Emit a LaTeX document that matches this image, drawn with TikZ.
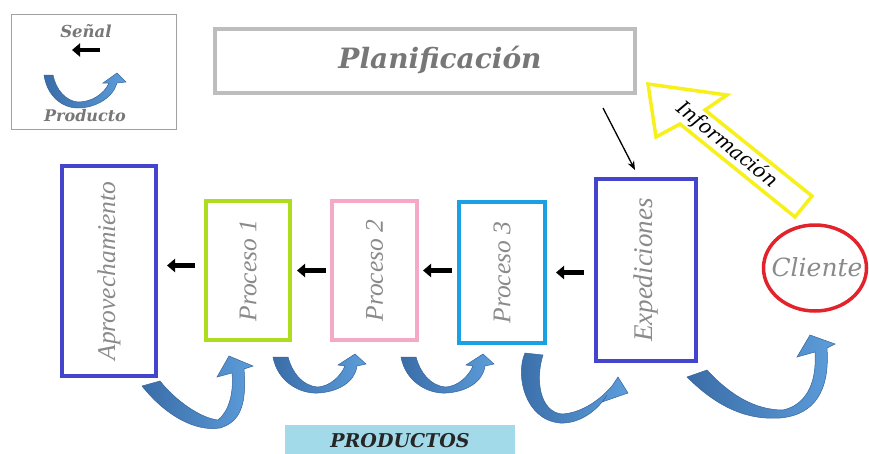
\documentclass[tikz,border=0pt]{standalone}
\usepackage{fontspec}
\setmainfont{Liberation Serif}
\newfontfamily\dvs{DejaVu Serif}
\usetikzlibrary{shapes.geometric,arrows.meta,calc}
\definecolor{boxblue}{HTML}{4444CC}
\definecolor{boxgreen}{HTML}{AEDC1E}
\definecolor{boxpink}{HTML}{F5A9C6}
\definecolor{boxcyan}{HTML}{1BA1E2}
\definecolor{planGray}{HTML}{BDBDBD}
\definecolor{lblGray}{HTML}{8A8A8A}
\definecolor{boldGray}{HTML}{777777}
\definecolor{cliRed}{HTML}{E3232B}
\definecolor{infoYellow}{HTML}{F7F01A}
\definecolor{ribDark}{HTML}{3A6DA8}
\definecolor{ribLight}{HTML}{5C9DDA}
\definecolor{ribLine}{HTML}{35649A}
\definecolor{prodFill}{HTML}{A3DAEA}
\begin{document}
\begin{tikzpicture}[x=1pt,y=-1pt,
  procbox/.style={draw, line width=4pt, fill=white, inner sep=0pt},
  boxlabel/.style={text=lblGray, font=\itshape\fontsize{25.5}{28}\selectfont, rotate=90},
  boldlabel/.style={text=boldGray, font=\dvs\bfseries\itshape},
  sig/.style={line width=4.5pt, -{Triangle[length=8pt,width=13pt]}},
  ribbon/.style={left color=ribDark, right color=ribLight, draw=ribLine, line width=0.5pt},
]
\useasboundingbox (0,0) rectangle (869,453);

% legend
\node[draw=lblGray!80, line width=0.8pt, minimum width=165pt, minimum height=115pt, inner sep=0pt] (legend) at (94,71.5) {};
\node[boldlabel, font=\dvs\bfseries\itshape\fontsize{16.5}{18}\selectfont] (senal) at (86,31) {Señal};
\node[boldlabel, font=\dvs\bfseries\itshape\fontsize{16}{18}\selectfont] (producto) at (85,116) {Producto};
\coordinate (lgA) at (100,50);
\coordinate (lgB) at (72,50);
\draw[sig] (lgA) -- (lgB);
\path[ribbon] (44,75) .. controls (47,96) and (62,108) .. (78,108)
  .. controls (95,108) and (113,98) .. (117,83) -- (126,82) -- (117,73) -- (103,83) -- (109,83)
  .. controls (104,94) and (92,102) .. (78,102) .. controls (66,101) and (56,90) .. (53,75) -- cycle;

% planificacion
\node[draw=planGray, line width=4pt, minimum width=420pt, minimum height=64pt, inner sep=0pt] (plan) at (425,61) {};
\node[boldlabel, font=\dvs\bfseries\itshape\fontsize{28}{30}\selectfont] (plantxt) at (440,60) {Planificación};

% process boxes
\node[procbox, draw=boxblue, minimum width=94pt, minimum height=210pt] (ap) at (109,271) {};
\node[boxlabel] at (ap) {Aprovechamiento};
\node[procbox, draw=boxgreen, minimum width=84pt, minimum height=139pt] (p1) at (248,270.5) {};
\node[boxlabel] at (p1) {Proceso 1};
\node[procbox, draw=boxpink, minimum width=85pt, minimum height=139pt] (p2) at (374.5,270.5) {};
\node[boxlabel] at (p2) {Proceso 2};
\node[procbox, draw=boxcyan, minimum width=86pt, minimum height=141pt] (p3) at (502,272.5) {};
\node[boxlabel] at (p3) {Proceso 3};
\node[procbox, draw=boxblue, minimum width=100pt, minimum height=182pt] (exp) at (646,270) {};
\node[boxlabel, font=\itshape\fontsize{27}{30}\selectfont] at (exp) {Expediciones};

% cliente
\node[ellipse, draw=cliRed, line width=3.5pt, minimum width=103pt, minimum height=86pt, inner sep=0pt] (cli) at (815,268) {};
\node[text=lblGray, font=\dvs\itshape\fontsize{25}{28}\selectfont] (clitxt) at (817,267) {Cliente};

% signal arrows
\draw[sig] ($(p1.west)+(-9,-5)$) -- ($(ap.east |- p1.west)+(9,-5)$);
\draw[sig] ($(p2.west)+(-4,0)$) -- ($(p1.east |- p2.west)+(5,0)$);
\draw[sig] ($(p3.west |- p2.east)+(-5,0)$) -- ($(p2.east)+(4,0)$);
\draw[sig] ($(exp.west |- p3.east)+(-10,0)$) -- ($(p3.east)+(9,0)$);

% plan -> expediciones
\coordinate (planout) at (603,108);
\draw[line width=1.3pt, -{Stealth[length=9pt,width=7pt]}] (planout) -- ($(exp.north)+(-11,-7)$);

% informacion arrow
\draw[infoYellow, line width=3.5pt, line join=miter, fill=white]
  (648,84) -- (727,95) -- (705,110) -- (812,196) -- (795,217) -- (680,124) -- (656,137) -- cycle;
\node[font=\dvs\itshape\fontsize{20}{22}\selectfont, rotate=-39, inner sep=0pt] (info) at (727,145) {Información};

% product ribbons
\path[ribbon] (142,386) .. controls (165,415) and (195,432) .. (220,428)
  .. controls (240,422) and (247,405) .. (244,369) -- (253,366) -- (229,356) -- (217,377) -- (232,373)
  .. controls (234,395) and (228,412) .. (218,420) .. controls (200,418) and (175,400) .. (160,381) -- cycle;
\path[ribbon] (273,357) .. controls (277,380) and (298,394) .. (318,393)
  .. controls (338,392) and (355,382) .. (357,366) -- (366,364) -- (355,354) -- (338,365) -- (345,366)
  .. controls (340,377) and (330,386) .. (318,387) .. controls (302,386) and (292,372) .. (288,357) -- cycle;
\begin{scope}[xshift=128pt]
\path[ribbon] (273,357) .. controls (277,380) and (298,394) .. (318,393)
  .. controls (338,392) and (355,382) .. (357,366) -- (366,364) -- (355,354) -- (338,365) -- (345,366)
  .. controls (340,377) and (330,386) .. (318,387) .. controls (302,386) and (292,372) .. (288,357) -- cycle;
\end{scope}
\path[ribbon] (525,353) .. controls (515,375) and (525,420) .. (560,423)
  .. controls (580,424) and (598,410) .. (607,395) -- (602,402) -- (628,393) -- (618,377) -- (612,386)
  .. controls (598,402) and (580,413) .. (562,414) .. controls (540,412) and (535,380) .. (543,355) -- cycle;
\path[ribbon] (687,377) .. controls (720,410) and (750,420) .. (780,418)
  .. controls (815,415) and (830,390) .. (827,348) -- (835,344) -- (810,335) -- (797,357) -- (815,352)
  .. controls (817,385) and (805,405) .. (783,410) .. controls (755,410) and (730,395) .. (707,370) -- cycle;

% productos
\node[fill=prodFill, minimum width=230pt, minimum height=32pt, inner sep=0pt,
      text=black!85, font=\dvs\bfseries\itshape\fontsize{19}{21}\selectfont] (prod) at (400,441) {PRODUCTOS};
\end{tikzpicture}
\end{document}
